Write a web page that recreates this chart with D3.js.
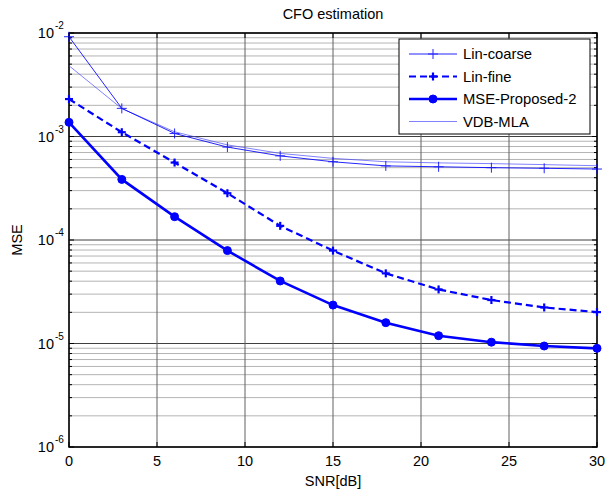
<!DOCTYPE html>
<html>
<head>
<meta charset="utf-8">
<script src="https://cdn.jsdelivr.net/npm/d3@7"></script>
<style>
  body { margin: 0; background: #fff; }
  text { font-family: "Liberation Sans", Arial, sans-serif; fill: #000; }
</style>
</head>
<body>
<div id="chart"></div>
<script>
// SNR points (dB)
var snr = [0, 3, 6, 9, 12, 15, 18, 21, 24, 27, 30];

// series values (MSE)
var linCoarse = [9.2e-3, 1.87e-3, 1.07e-3, 7.9e-4, 6.5e-4, 5.7e-4, 5.2e-4, 5.1e-4, 5.0e-4, 4.93e-4, 4.85e-4];
var linFine = [2.3e-3, 1.1e-3, 5.6e-4, 2.83e-4, 1.37e-4, 7.9e-5, 4.76e-5, 3.33e-5, 2.63e-5, 2.23e-5, 2.01e-5];
var mseProposed = [1.37e-3, 3.85e-4, 1.68e-4, 7.9e-5, 4.02e-5, 2.35e-5, 1.59e-5, 1.19e-5, 1.03e-5, 9.46e-6, 8.98e-6];
var vdbMla = [4.83e-3, 1.86e-3, 1.11e-3, 8.3e-4, 6.87e-4, 6.15e-4, 5.7e-4, 5.56e-4, 5.47e-4, 5.35e-4, 5.22e-4];

var seriesNames = ["Lin-coarse", "Lin-fine", "MSE-Proposed-2", "VDB-MLA"];

// tick labels
var xTicks = [0, 5, 10, 15, 20, 25, 30];
var yDecades = [-2, -3, -4, -5, -6];

function init() {
  var w = 608, h = 495;
  var left = 69, right = 597, top = 33, bottom = 447;

  var svg = d3.select("#chart").append("svg")
    .attr("width", w).attr("height", h);

  var x = d3.scaleLinear().domain([0, 30]).range([left, right]);
  var y = d3.scaleLog().domain([1e-6, 1e-2]).range([bottom, top]);

  // minor grid values
  var minor = [];
  yDecades.slice(1).forEach(function(e) {
    for (var k = 2; k <= 9; k++) minor.push(k * Math.pow(10, e));
  });

  var grid = svg.append("g");
  grid.selectAll("line.minor").data(minor).enter().append("line")
    .attr("x1", left).attr("x2", right)
    .attr("y1", function(d) { return y(d); }).attr("y2", function(d) { return y(d); })
    .attr("stroke", "#b4b4b4").attr("stroke-width", 1);
  grid.selectAll("line.major").data(yDecades).enter().append("line")
    .attr("x1", left).attr("x2", right)
    .attr("y1", function(d) { return y(Math.pow(10, d)); }).attr("y2", function(d) { return y(Math.pow(10, d)); })
    .attr("stroke", "#404040").attr("stroke-width", 1);
  grid.selectAll("line.vx").data(xTicks).enter().append("line")
    .attr("x1", function(d) { return x(d); }).attr("x2", function(d) { return x(d); })
    .attr("y1", top).attr("y2", bottom)
    .attr("stroke", "#606060").attr("stroke-width", 1);

  // inward ticks on all sides
  var ticks = svg.append("g").attr("stroke", "#000").attr("stroke-width", 1);
  xTicks.forEach(function(d) {
    ticks.append("line").attr("x1", x(d)).attr("x2", x(d)).attr("y1", bottom).attr("y2", bottom - 5);
    ticks.append("line").attr("x1", x(d)).attr("x2", x(d)).attr("y1", top).attr("y2", top + 5);
  });
  minor.forEach(function(d) {
    ticks.append("line").attr("x1", left).attr("x2", left + 3).attr("y1", y(d)).attr("y2", y(d));
    ticks.append("line").attr("x1", right).attr("x2", right - 3).attr("y1", y(d)).attr("y2", y(d));
  });
  yDecades.forEach(function(e) {
    var yy = y(Math.pow(10, e));
    ticks.append("line").attr("x1", left).attr("x2", left + 5).attr("y1", yy).attr("y2", yy);
    ticks.append("line").attr("x1", right).attr("x2", right - 5).attr("y1", yy).attr("y2", yy);
  });

  // box
  svg.append("rect").attr("x", left).attr("y", top)
    .attr("width", right - left).attr("height", bottom - top)
    .attr("fill", "none").attr("stroke", "#000").attr("stroke-width", 1.5);

  // x tick labels
  svg.selectAll("text.xt").data(xTicks).enter().append("text")
    .attr("x", function(d) { return x(d); })
    .attr("y", bottom + 19)
    .attr("text-anchor", "middle")
    .style("font-size", "14.5px")
    .text(function(d) { return d; });

  // y tick labels 10^e
  yDecades.forEach(function(e) {
    var yy = y(Math.pow(10, e));
    svg.append("text")
      .attr("x", 54).attr("y", yy + 5)
      .attr("text-anchor", "end")
      .style("font-size", "14.5px")
      .text("10");
    svg.append("text")
      .attr("x", 55).attr("y", yy - 4)
      .style("font-size", "10px")
      .text("-" + Math.abs(e));
  });

  // title + axis labels
  svg.append("text").attr("x", (left + right) / 2).attr("y", 19)
    .attr("text-anchor", "middle").style("font-size", "14.5px").text("CFO estimation");
  svg.append("text").attr("x", (left + right) / 2).attr("y", 486)
    .attr("text-anchor", "middle").style("font-size", "14.5px").text("SNR[dB]");
  svg.append("text").attr("transform", "translate(22," + ((top + bottom) / 2) + ") rotate(-90)")
    .attr("text-anchor", "middle").style("font-size", "14.5px").text("MSE");

  var line = d3.line()
    .x(function(d, i) { return x(snr[i]); })
    .y(function(d) { return y(d); });

  var styles = [
    { data: linCoarse, width: 1, dash: null, marker: "plus", color: "#0000ff", op: 0.85 },
    { data: linFine, width: 2.2, dash: "7,4", marker: "plusBold", color: "#0000ff", op: 1 },
    { data: mseProposed, width: 2.6, dash: null, marker: "circle", color: "#0000ff", op: 1 },
    { data: vdbMla, width: 0.8, dash: null, marker: null, color: "#3a3aff", op: 0.8 }
  ];

  function drawMarker(g, type, cx, cy, color) {
    if (type === "plus") {
      g.append("line").attr("x1", cx - 5).attr("x2", cx + 5).attr("y1", cy).attr("y2", cy)
        .attr("stroke", color).attr("stroke-width", 1);
      g.append("line").attr("x1", cx).attr("x2", cx).attr("y1", cy - 5).attr("y2", cy + 5)
        .attr("stroke", color).attr("stroke-width", 1);
    } else if (type === "plusBold") {
      g.append("line").attr("x1", cx - 4).attr("x2", cx + 4).attr("y1", cy).attr("y2", cy)
        .attr("stroke", color).attr("stroke-width", 2.2);
      g.append("line").attr("x1", cx).attr("x2", cx).attr("y1", cy - 4).attr("y2", cy + 4)
        .attr("stroke", color).attr("stroke-width", 2.2);
    } else if (type === "circle") {
      g.append("circle").attr("cx", cx).attr("cy", cy).attr("r", 4)
        .attr("fill", color).attr("stroke", color).attr("stroke-width", 1);
    }
  }

  var plot = svg.append("g");
  // draw VDB first so it sits beneath
  [3, 0, 1, 2].forEach(function(k) {
    var s = styles[k];
    var g = plot.append("g").attr("opacity", s.op);
    g.append("path").datum(s.data)
      .attr("d", line)
      .attr("fill", "none")
      .attr("stroke", s.color)
      .attr("stroke-width", s.width)
      .attr("stroke-dasharray", s.dash);
    if (s.marker) {
      s.data.forEach(function(d, i) { drawMarker(g, s.marker, x(snr[i]), y(d), s.color); });
    }
  });

  // legend
  var lg = svg.append("g");
  lg.append("rect").attr("x", 399).attr("y", 39).attr("width", 191).attr("height", 95)
    .attr("fill", "#fff").attr("stroke", "#000").attr("stroke-width", 1);
  seriesNames.forEach(function(name, i) {
    var s = styles[i];
    var yy = 54 + i * 22.5;
    var g = lg.append("g").attr("opacity", s.op);
    g.append("line").attr("x1", 409).attr("x2", 457).attr("y1", yy).attr("y2", yy)
      .attr("stroke", s.color).attr("stroke-width", s.width).attr("stroke-dasharray", s.dash);
    if (s.marker) drawMarker(g, s.marker, 433, yy, s.color);
    lg.append("text").attr("x", 463).attr("y", yy + 5)
      .style("font-size", "14.8px").text(name);
  });
}
window.onload = init;
</script>
</body>
</html>
